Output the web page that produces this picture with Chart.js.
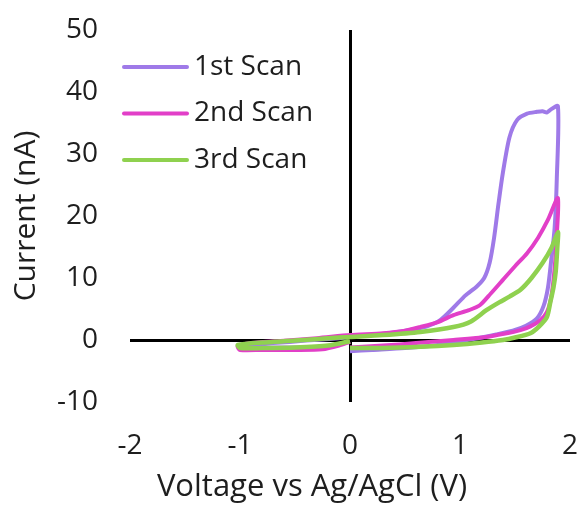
<!DOCTYPE html>
<html>
<head>
<meta charset="utf-8">
<script src="https://cdn.jsdelivr.net/npm/chart.js@4.4.1/dist/chart.umd.min.js"></script>
<style>
  html, body { margin: 0; padding: 0; background: #fff; }
  #chart { display: block; }
</style>
</head>
<body>
<canvas id="chart" width="578" height="506"></canvas>
<script>
// Cyclic voltammetry scans: voltage (V) and current (nA)
var seriesNames = ['1st Scan', '2nd Scan', '3rd Scan'];
var seriesColors = ['#9f7ae8', '#e23fc8', '#8fd14f'];

var scan1V = [0, -0.2, -0.5, -0.8, -1.0, -1.01, -0.7, -0.4, -0.1, 0, 0.2, 0.4, 0.6, 0.7, 0.82, 0.94, 1.05, 1.15, 1.22, 1.27, 1.31, 1.35, 1.39, 1.45, 1.52, 1.61, 1.70, 1.75, 1.79, 1.82, 1.89,
              1.88, 1.86, 1.83, 1.80, 1.76, 1.70, 1.60, 1.48, 1.33, 1.1, 0.8, 0.5, 0.2, 0];
var scan1I = [-0.3, -1.0, -1.2, -1.2, -1.1, -0.8, -0.5, -0.1, 0.3, 0.5, 0.8, 1.2, 1.8, 2.2, 3.2, 5.2, 7.2, 8.6, 10.0, 12.5, 16.5, 22.0, 27.0, 32.7, 35.5, 36.5, 36.8, 36.9, 36.7, 37.1, 37.7,
              26.0, 18.0, 13.0, 8.5, 5.5, 3.5, 2.3, 1.5, 0.9, 0.1, -0.8, -1.3, -1.6, -1.8];

var scan2V = [0, -0.1, -0.25, -0.5, -0.8, -1.0, -1.02, -0.9, -0.6, -0.3, 0, 0.3, 0.5, 0.64, 0.8, 0.94, 1.08, 1.18, 1.28, 1.39, 1.5, 1.61, 1.71, 1.80, 1.89,
              1.88, 1.86, 1.83, 1.79, 1.73, 1.64, 1.55, 1.4, 1.24, 0.94, 0.6, 0.3, 0];
var scan2I = [-0.3, -0.9, -1.5, -1.6, -1.6, -1.6, -1.0, -0.5, -0.1, 0.3, 0.8, 1.1, 1.5, 2.1, 2.9, 4.0, 4.8, 5.6, 7.5, 9.7, 11.9, 14.0, 16.5, 19.4, 22.9,
              17.0, 11.5, 7.0, 4.5, 3.2, 2.2, 1.6, 1.0, 0.5, 0.0, -0.5, -0.9, -1.2];

var scan3V = [0, -0.2, -0.5, -0.8, -1.0, -1.02, -0.8, -0.5, -0.2, 0, 0.3, 0.64, 0.94, 1.1, 1.24, 1.36, 1.45, 1.55, 1.65, 1.75, 1.83, 1.89,
              1.885, 1.87, 1.85, 1.82, 1.79, 1.72, 1.64, 1.5, 1.39, 1.2, 0.94, 0.64, 0.3, 0];
var scan3I = [-0.2, -0.9, -1.2, -1.3, -1.3, -0.8, -0.4, -0.1, 0.3, 0.5, 0.8, 1.3, 2.1, 3.0, 4.8, 6.1, 7.0, 8.1, 10.0, 12.4, 14.8, 17.4,
              15.0, 11.0, 8.5, 6.0, 3.7, 2.2, 1.1, 0.4, 0.0, -0.4, -0.8, -1.1, -1.3, -1.3];

var xTicks = [-2, -1, 0, 1, 2];
var yTicks = [-10, 0, 10, 20, 30, 40, 50];

var FONT = '"Open Sans", sans-serif';
var TEXT_COLOR = '#1e1e1e';

function toPoints(vs, is) {
    return vs.map(function (v, i) { return { x: v, y: is[i] }; });
}

var allScans = [[scan1V, scan1I], [scan2V, scan2I], [scan3V, scan3I]];

// later scans are drawn on top
var datasets = allScans.map(function (s, k) {
    return {
        label: seriesNames[k],
        data: toPoints(s[0], s[1]),
        borderColor: seriesColors[k],
        backgroundColor: seriesColors[k],
        borderWidth: k === 2 ? 4.5 : 4,
        showLine: true,
        pointRadius: 0,
        tension: 0.25,
        order: 3 - k
    };
});

// Legend drawn inside the plot, top-left, like the original
var insideLegend = {
    id: 'insideLegend',
    afterDraw: function (chart) {
        var ctx = chart.ctx;
        ctx.save();
        ctx.font = '28px ' + FONT;
        ctx.textBaseline = 'middle';
        ctx.textAlign = 'left';
        chart.data.datasets.forEach(function (ds, i) {
            var y = 67 + i * 46.5;
            ctx.strokeStyle = ds.borderColor;
            ctx.lineWidth = 4;
            ctx.lineCap = 'round';
            ctx.beginPath();
            ctx.moveTo(124, y);
            ctx.lineTo(187, y);
            ctx.stroke();
            ctx.fillStyle = TEXT_COLOR;
            ctx.fillText(ds.label, 194, y);
        });
        ctx.restore();
    }
};

// x axis title sits left of the plot centre in the original
var xTitle = {
    id: 'xTitle',
    afterDraw: function (chart) {
        var ctx = chart.ctx;
        ctx.save();
        ctx.font = '31px ' + FONT;
        ctx.fillStyle = TEXT_COLOR;
        ctx.textAlign = 'center';
        ctx.textBaseline = 'middle';
        ctx.fillText('Voltage vs Ag/AgCl (V)', 312, 487);
        ctx.restore();
    }
};

function zeroLine(ctx) {
    return ctx.tick && ctx.tick.value === 0 ? '#000000' : 'rgba(0,0,0,0)';
}

// keep the plot box fixed: no extra room for edge labels
function noEdgePadding(scale) {
    scale.paddingLeft = 0;
    scale.paddingRight = 0;
    scale.paddingTop = 0;
    scale.paddingBottom = 0;
}

new Chart(document.getElementById('chart'), {
    type: 'scatter',
    data: { datasets: datasets },
    options: {
        responsive: false,
        animation: false,
        layout: { padding: { top: 30, right: 8, bottom: 0, left: 0 } },
        plugins: {
            legend: { display: false },
            tooltip: { enabled: false }
        },
        scales: {
            x: {
                type: 'linear',
                min: -2,
                max: 2,
                afterBuildTicks: function (scale) {
                    scale.ticks = xTicks.map(function (v) { return { value: v }; });
                },
                afterFit: function (scale) { scale.height = 104; noEdgePadding(scale); },
                border: { display: false },
                grid: { color: zeroLine, lineWidth: 3, drawTicks: false },
                ticks: { padding: 27, color: TEXT_COLOR, font: { family: FONT, size: 28 }, maxRotation: 0 }
            },
            y: {
                type: 'linear',
                min: -10,
                max: 50,
                afterBuildTicks: function (scale) {
                    scale.ticks = yTicks.map(function (v) { return { value: v }; });
                },
                afterFit: function (scale) { scale.width = 130; noEdgePadding(scale); },
                border: { display: false },
                grid: { color: zeroLine, lineWidth: 3, drawTicks: false },
                ticks: { padding: 32, color: TEXT_COLOR, font: { family: FONT, size: 28 } },
                title: {
                    display: true,
                    text: 'Current (nA)',
                    color: TEXT_COLOR,
                    font: { family: FONT, size: 30 },
                    padding: { top: 8, bottom: 0 }
                }
            }
        }
    },
    plugins: [insideLegend, xTitle]
});
</script>
</body>
</html>
